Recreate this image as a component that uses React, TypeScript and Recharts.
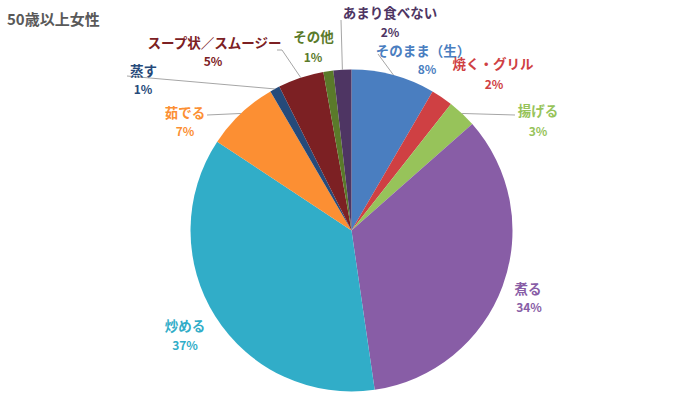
import { PieChart, Pie, Cell } from "recharts";

const categories = [
  "そのまま（生）",
  "焼く・グリル",
  "揚げる",
  "煮る",
  "炒める",
  "茹でる",
  "蒸す",
  "スープ状／スムージー",
  "その他",
  "あまり食べない",
];
const shares = [8.4, 2.2, 2.9, 34.2, 36.6, 7.3, 1.0, 4.6, 1.0, 1.8];
const colors = [
  "#4a7ec0",
  "#cf4043",
  "#97c35a",
  "#885da6",
  "#31adc8",
  "#fc8f33",
  "#264a7a",
  "#7c2023",
  "#5a7a2a",
  "#4e3563",
];

// label placement, offsets from the pie centre
const labelPos: { name: [number, number]; pct: [number, number]; line?: [number, number][] }[] = [
  { name: [71.5, -180.5], pct: [75.5, -162.5], line: [[26.5, -176.5]] },
  { name: [141.5, -167.5], pct: [142.5, -147.5] },
  { name: [186.5, -120.5], pct: [186.5, -100.5], line: [[163.5, -115.5]] },
  { name: [176.5, 57.5], pct: [177.5, 75.5] },
  { name: [-166.5, 94.5], pct: [-166.5, 113.5] },
  { name: [-166.5, -118.5], pct: [-166.5, -100.5], line: [[-144.5, -115.5]] },
  { name: [-208, -160.5], pct: [-208.5, -142.5], line: [[-224.5, -154.5]] },
  { name: [-137, -188.5], pct: [-138.5, -170.5], line: [[-69.5, -180.5], [-74.5, -180.5]] },
  { name: [-38, -194.5], pct: [-38.5, -174.5] },
  { name: [38.5, -218.5], pct: [38.5, -199.5], line: [[-10.5, -210.5]] },
];

const data = categories.map((name, i) => ({ name, value: shares[i] }));
const total = shares.reduce((a, b) => a + b, 0);
const RAD = Math.PI / 180;

function SliceLabel(props: any) {
  const { cx, cy, midAngle, outerRadius, index } = props;
  const pos = labelPos[index];
  const color = colors[index];
  const sx = cx + outerRadius * Math.cos(-midAngle * RAD);
  const sy = cy + outerRadius * Math.sin(-midAngle * RAD);
  const pts = pos.line
    ? [[sx, sy], ...pos.line.map(([dx, dy]) => [cx + dx, cy + dy])]
    : null;
  return (
    <g>
      {pts && (
        <polyline
          points={pts.map((p) => p.join(",")).join(" ")}
          fill="none"
          stroke="#a6a6a6"
          strokeWidth={1}
        />
      )}
      <text
        x={cx + pos.name[0]}
        y={cy + pos.name[1]}
        fill={color}
        textAnchor="middle"
        dominantBaseline="central"
        fontSize={13.5}
        fontWeight="bold"
      >
        {categories[index]}
      </text>
      <text
        x={cx + pos.pct[0]}
        y={cy + pos.pct[1]}
        fill={color}
        textAnchor="middle"
        dominantBaseline="central"
        fontSize={12}
        fontWeight="bold"
      >
        {Math.round((shares[index] / total) * 100)}%
      </text>
    </g>
  );
}

export default function App() {
  return (
    <div
      style={{
        position: "absolute",
        left: 0,
        top: 0,
        width: 700,
        height: 420,
        background: "#fff",
        fontFamily: '"Noto Sans CJK JP", "Noto Sans", sans-serif',
      }}
    >
      <div
        style={{
          position: "absolute",
          left: 7,
          top: 8,
          fontSize: 15,
          fontWeight: "bold",
          color: "#595959",
        }}
      >
        50歳以上女性
      </div>
      <PieChart
        width={700}
        height={420}
        margin={{ top: 0, right: 0, bottom: 0, left: 0 }}
      >
        <Pie
          data={data}
          dataKey="value"
          nameKey="name"
          cx={351.5}
          cy={230.5}
          outerRadius={161}
          startAngle={90}
          endAngle={-270}
          stroke="none"
          label={SliceLabel}
          labelLine={false}
          isAnimationActive={false}
        >
          {data.map((d, i) => (
            <Cell key={d.name} fill={colors[i]} />
          ))}
        </Pie>
      </PieChart>
    </div>
  );
}
